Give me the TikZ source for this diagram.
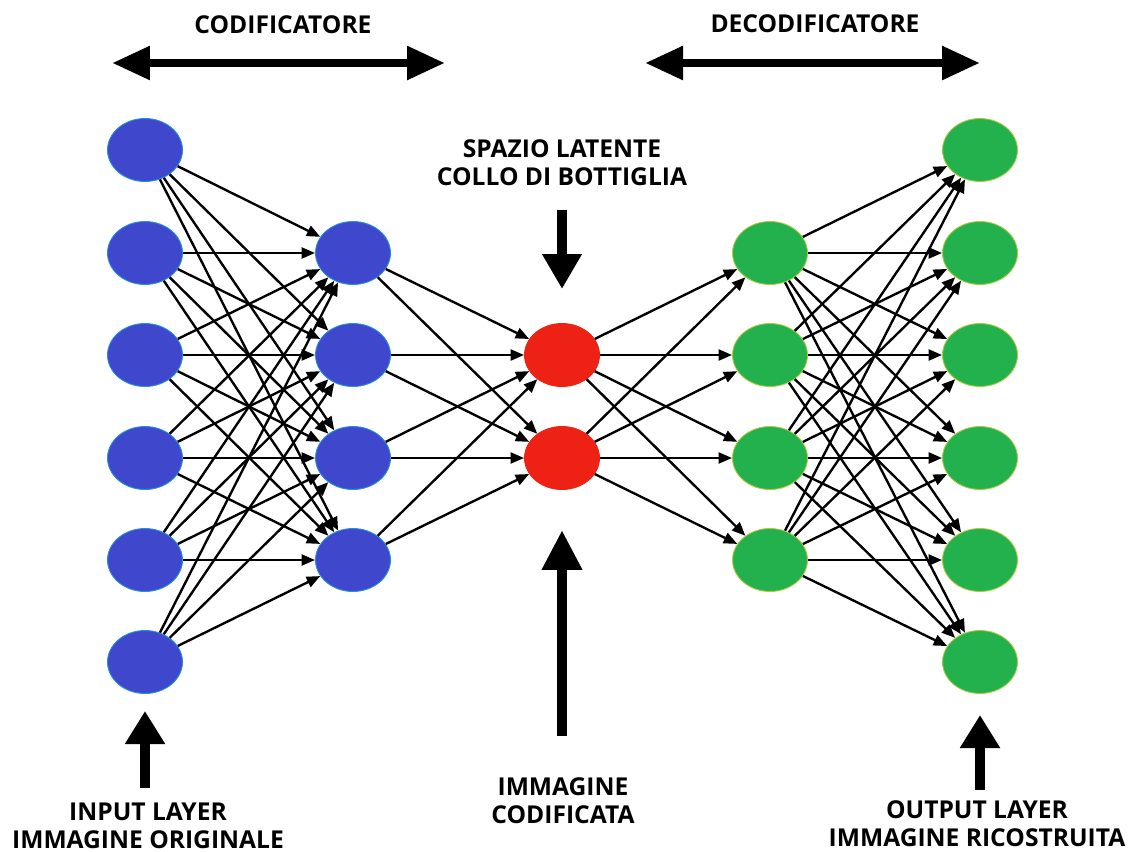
\documentclass[tikz,border=0pt]{standalone}
\usepackage{fontspec}
\setmainfont{Open Sans}
\usetikzlibrary{arrows.meta,shapes.geometric}
\definecolor{nblue}{RGB}{63,72,204}
\definecolor{nred}{RGB}{237,34,20}
\definecolor{ngreen}{RGB}{34,177,76}
\begin{document}
\begin{tikzpicture}[x=0.02cm,y=-0.02cm,
  neuron/.style={ellipse, minimum width=1.5cm, minimum height=1.26cm, inner sep=0pt, line width=0.5pt},
  bneuron/.style={neuron, fill=nblue, draw=nblue!60!cyan},
  rneuron/.style={neuron, fill=nred, draw=nred},
  gneuron/.style={neuron, fill=ngreen, draw=yellow!60!ngreen},
  edge/.style={line width=1.35pt, -{Triangle[length=0.27cm,width=0.22cm]}},
  bigarrow/.style={line width=0.2cm, -{Triangle[length=0.7cm,width=0.75cm]}},
  dblarrow/.style={line width=0.17cm, {Triangle[length=0.76cm,width=0.64cm]}-{Triangle[length=0.76cm,width=0.64cm]}},
  lbl/.style={font=\bfseries\fontsize{14}{16}\selectfont, align=center, inner sep=0pt}
]
\useasboundingbox (0,0) rectangle (1136,852);
% layers
\foreach \i/\y in {1/150,2/253,3/355,4/458,5/560,6/662}
  \node[bneuron] (a\i) at (145,\y) {};
\foreach \i/\y in {1/253,2/355,3/458,4/560}
  \node[bneuron] (b\i) at (353,\y) {};
\foreach \i/\y in {1/355,2/458}
  \node[rneuron] (c\i) at (562,\y) {};
\foreach \i/\y in {1/253,2/355,3/458,4/560}
  \node[gneuron] (d\i) at (770,\y) {};
\foreach \i/\y in {1/150,2/253,3/355,4/458,5/560,6/662}
  \node[gneuron] (e\i) at (980,\y) {};
% connections
\foreach \i in {1,...,6} \foreach \j in {1,...,4} \draw[edge] (a\i) -- (b\j);
\foreach \i in {1,...,4} \foreach \j in {1,2} \draw[edge] (b\i) -- (c\j);
\foreach \i in {1,2} \foreach \j in {1,...,4} \draw[edge] (c\i) -- (d\j);
\foreach \i in {1,...,4} \foreach \j in {1,...,6} \draw[edge] (d\i) -- (e\j);
% top labels and arrows
\node[lbl] (tcod) at (283,25) {CODIFICATORE};
\node[lbl] (tdec) at (815,24) {DECODIFICATORE};
\coordinate (cl) at (112,63); \coordinate (cr) at (445,63);
\coordinate (dl) at (645,63); \coordinate (dr) at (980,63);
\draw[dblarrow] (cl) -- (cr);
\draw[dblarrow] (dl) -- (dr);
% latent
\node[lbl] (tlat) at (562,163) {SPAZIO LATENTE\\COLLO DI BOTTIGLIA};
\coordinate (lt) at (562,210); \coordinate (lb) at (562,289);
\draw[bigarrow] (lt) -- (lb);
\coordinate (mb) at (562,736); \coordinate (mt) at (562,530);
\draw[bigarrow, -{Triangle[length=0.8cm,width=0.76cm]}] (mb) -- (mt);
\node[lbl] (tcodif) at (563,801) {IMMAGINE\\CODIFICATA};
% input
\coordinate (ib) at (145,788); \coordinate (it) at (145,711);
\draw[bigarrow, -{Triangle[length=0.66cm,width=0.76cm]}] (ib) -- (it);
\node[lbl] (tin) at (148,826) {INPUT LAYER\\IMMAGINE ORIGINALE};
% output
\coordinate (ob) at (980,790); \coordinate (ot) at (980,715);
\draw[bigarrow, -{Triangle[length=0.66cm,width=0.76cm]}] (ob) -- (ot);
\node[lbl] (tout) at (977,824) {OUTPUT LAYER\\IMMAGINE RICOSTRUITA};
\end{tikzpicture}
\end{document}
